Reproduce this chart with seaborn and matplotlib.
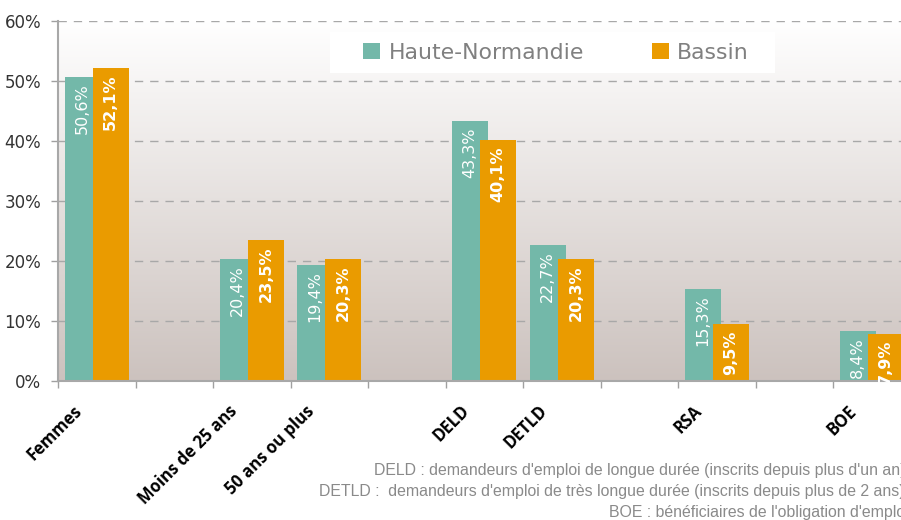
import numpy as np
import pandas as pd
import matplotlib
matplotlib.use("Agg")
import matplotlib.pyplot as plt
from matplotlib.colors import LinearSegmentedColormap
from matplotlib.patches import Patch, Rectangle
from matplotlib.transforms import ScaledTranslation
import seaborn as sns

# ---- data ----
categories = ["Femmes", " ", "Moins de 25 ans", "50 ans ou plus", "  ",
              "DELD", "DETLD", "   ", "RSA", "    ", "BOE"]
shown_categories = ["Femmes", "Moins de 25 ans", "50 ans ou plus",
                    "DELD", "DETLD", "RSA", "BOE"]
haute_normandie = [50.6, 20.4, 19.4, 43.3, 22.7, 15.3, 8.4]
bassin = [52.1, 23.5, 20.3, 40.1, 20.3, 9.5, 7.9]
series_names = ["Haute-Normandie", "Bassin"]
y_ticks = [0, 10, 20, 30, 40, 50, 60]
y_tick_labels = ["0%", "10%", "20%", "30%", "40%", "50%", "60%"]
notes = [
    "DELD : demandeurs d'emploi de longue durée (inscrits depuis plus d'un an)",
    "DETLD :  demandeurs d'emploi de très longue durée (inscrits depuis plus de 2 ans)",
    "BOE : bénéficiaires de l'obligation d'emploi",
]

TEAL = "#73b8a9"
ORANGE = "#ea9b00"

df = pd.DataFrame({
    "cat": shown_categories * 2,
    "series": [series_names[0]] * len(shown_categories) + [series_names[1]] * len(shown_categories),
    "value": haute_normandie + bassin,
})

sns.set_theme(style="white")
plt.rcParams["font.family"] = ["DejaVu Sans"]

W, H = 901, 520
fig = plt.figure(figsize=(W / 100, H / 100), dpi=100)
ax = fig.add_axes([58 / W, 139 / H, 852.5 / W, 360 / H])

# gradient background
cmap = LinearSegmentedColormap.from_list("bg", ["#ffffff", "#ccc2be"])
grad = np.linspace(0, 1, 256).reshape(-1, 1)
ax.imshow(grad, extent=[0, 1, 0, 1], transform=ax.transAxes, aspect="auto",
          cmap=cmap, zorder=0, origin="upper")

sns.barplot(data=df, x="cat", y="value", hue="series", order=categories,
            hue_order=series_names, palette=[TEAL, ORANGE], width=0.7226,
            saturation=1, legend=False, ax=ax, zorder=3, linewidth=0)

bar_w = 0.4645
for ci, cont in enumerate(ax.containers):
    for p in cont.patches:
        cx = p.get_x() + p.get_width() / 2
        p.set_width(bar_w)
        p.set_x(cx - bar_w / 2)
        h = p.get_height()
        if np.isnan(h):
            continue
        txt = f"{h:.1f}".replace(".", ",") + "%"
        ax.annotate(txt, (cx, h), xytext=(0, -4.5), textcoords="offset points",
                    ha="center", va="top", rotation=90, color="white",
                    fontsize=11.5,
                    fontweight="bold" if ci == 1 else "normal", zorder=5)

ax.set_xlim(-0.5, 10.5)
ax.set_ylim(0, 60)

# grid
for yv in y_ticks[1:]:
    ax.axhline(yv, color="#a8a8a8", lw=1, ls=(0, (6, 5)), zorder=1)

ax.set_yticks(y_ticks)
ax.set_yticklabels(y_tick_labels, fontsize=12, color="#333333")
ax.tick_params(axis="y", length=5, width=1, color="#a0a0a0", pad=7, left=True)

ax.set_xticks(range(len(categories)))
ax.set_xticklabels(categories, rotation=45, ha="right", rotation_mode="anchor",
                   fontsize=12, fontweight="bold", family="Open Sans", color="black")
ax.set_xticks(np.arange(-0.5, 10.6, 1), minor=True)
ax.tick_params(axis="x", which="major", length=0, pad=10)
ax.tick_params(axis="x", which="minor", length=5, width=1, color="#a0a0a0", bottom=True)
shift = ScaledTranslation(-24 / 100, -7 / 100, fig.dpi_scale_trans)
for lab in ax.get_xticklabels():
    lab.set_transform(lab.get_transform() + shift)
ax.set_xlabel("")
ax.set_ylabel("")

for s in ["top", "right"]:
    ax.spines[s].set_visible(False)
for s in ["left", "bottom"]:
    ax.spines[s].set_color("#a8a8a8")
    ax.spines[s].set_linewidth(1.5)
    ax.spines[s].set_zorder(4)

# legend box
x0 = (330 - 58) / 852.5
y0 = (381 - 73) / 360
ax.add_patch(Rectangle((x0, y0), 445 / 852.5, 41 / 360, transform=ax.transAxes,
                       facecolor="white", edgecolor="none", zorder=6))
handles = [Patch(facecolor=TEAL, edgecolor="none"), Patch(facecolor=ORANGE, edgecolor="none")]
leg = ax.legend(handles, series_names, loc="center",
                bbox_to_anchor=((556 - 58) / 852.5, (381 - 52.5) / 360),
                ncol=2, frameon=False, fontsize=15.8, handlelength=0.76,
                handleheight=0.76, handletextpad=0.38, columnspacing=3.1,
                labelcolor="#808080")
leg.set_zorder(7)

# footnotes (cut off at the right edge, as in the source image)
fs = 11.4
fig.text(374 / W, 1 - 475 / H, notes[0], fontsize=fs, color="#8a8a8a",
         family="Liberation Sans", ha="left", va="baseline")
fig.text(319 / W, 1 - 496 / H, notes[1], fontsize=fs, color="#8a8a8a",
         family="Liberation Sans", ha="left", va="baseline")
fig.text(609 / W, 1 - 517 / H, notes[2], fontsize=fs, color="#8a8a8a",
         family="Liberation Sans", ha="left", va="baseline")

fig.savefig("out.png", dpi=100)
